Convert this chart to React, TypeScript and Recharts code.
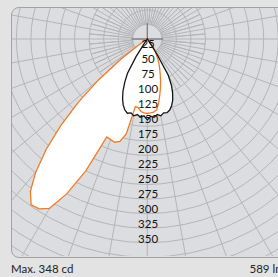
import React from 'react';
import { RadarChart, Radar, PolarGrid, PolarAngleAxis, PolarRadiusAxis } from 'recharts';

// gamma step (degrees) of the measured intensity values, starting at nadir (0°)
const STEP = 2.5;
// C0-C180 plane (orange), cd, towards the left / right of nadir
const orangeLeft = [128, 127, 125, 119, 118, 167, 182, 186, 184, 182, 250, 300, 336, 346, 348, 330, 298, 257, 210, 160, 110, 58, 20, 5, 0];
const orangeRight = [128, 127, 126, 123, 112, 99, 87, 76, 65, 56, 48, 40, 31, 25, 19, 14, 10, 6, 3, 1, 0];
// C90-C270 plane (black), cd
const blackLeft = [139, 132, 135, 131, 134, 130, 132, 128, 121, 111, 99, 84, 68, 36, 6, 0];
const blackRight = [139, 133, 135, 131, 134, 130, 131, 128, 122, 114, 103, 90, 72, 30, 5, 0];

const radiusTicks = [25, 50, 75, 100, 125, 150, 175, 200, 225, 250, 275, 300, 325, 350, 375, 400, 425, 450, 475];
const labelMax = 350;
const spokeAngles = Array.from({ length: 36 }, (_, i) => i * 10);
const SHORT_SPOKE = 100;
const DISK = 25;
const CROSS = 27;

const maxText = 'Max. 348 cd';
const lumenText = '589 lm';

const ORANGE = '#f37a22';
const BLACK = '#151515';
const GRID = '#b4b5b7';
const PANEL = '#dcdde0';
const PAGE = '#e3e3e4';

const positions = Array.from({ length: 144 }, (_, i) => i * STEP);
const pick = (arr: number[], g: number) => {
  const v = arr[Math.round(g / STEP)];
  return v === undefined ? 0 : v;
};
const data = positions.map((a) => {
  const left = a <= 180;
  const g = left ? a : 360 - a;
  return {
    a,
    o: pick(left ? orangeLeft : orangeRight, g),
    b: pick(left ? blackLeft : blackRight, g),
    disk: DISK,
    cross: a % 90 === 0 ? CROSS : 0,
    sp5: a % 10 === 5 ? SHORT_SPOKE : 0,
  };
});

const FONT = 'Lato, "Noto Sans", sans-serif';

const CX = 135.3;
const CY = 31;

const LabelTick = (props: any) => {
  const { x, y, payload } = props;
  const v = payload.value;
  if (v > labelMax) return null;
  const off = -10.3 + 0.0168 * v;
  return (
    <text x={x + 0.8} y={y + off} textAnchor="middle" dominantBaseline="central" fontSize={11.5} fill="#111" fontFamily={FONT}>
      {v}
    </text>
  );
};

export default function App() {
  return (
    <div style={{ position: 'absolute', left: 0, top: 0, width: 278, height: 277, background: PAGE, overflow: 'hidden', fontFamily: FONT }}>
      <div
        style={{
          position: 'absolute',
          left: 10.5,
          top: 6.5,
          width: 300,
          height: 251,
          boxSizing: 'border-box',
          border: '1.5px solid #a2a3a5',
          borderRadius: 8,
          overflow: 'hidden',
          background: PANEL,
        }}
      >
        <RadarChart
          width={297}
          height={248}
          data={data}
          cx={CX}
          cy={CY}
          innerRadius={0}
          outerRadius={276.45}
          startAngle={-90}
          endAngle={-450}
          margin={{ top: 0, right: 0, bottom: 0, left: 0 }}
        >
          <PolarGrid gridType="circle" polarAngles={spokeAngles} stroke={GRID} strokeWidth={1} />
          <PolarAngleAxis dataKey="a" type="number" domain={[0, 360]} tick={false} axisLine={false} tickLine={false} />
          <Radar dataKey="sp5" stroke={GRID} strokeWidth={1} fill="none" isAnimationActive={false} dot={false} />
          <Radar dataKey="disk" stroke={GRID} strokeWidth={1} fill={PANEL} fillOpacity={1} isAnimationActive={false} dot={false} />
          <Radar dataKey="cross" stroke="#7e7f81" strokeWidth={1} fill="none" isAnimationActive={false} dot={false} />
          <Radar dataKey="o" stroke="none" fill="#ffffff" fillOpacity={1} isAnimationActive={false} dot={false} />
          <Radar dataKey="b" stroke="none" fill="#ffffff" fillOpacity={1} isAnimationActive={false} dot={false} />
          <Radar dataKey="o" stroke={ORANGE} strokeWidth={1.3} fill="none" isAnimationActive={false} dot={false} />
          <Radar dataKey="b" stroke={BLACK} strokeWidth={1.3} fill="none" isAnimationActive={false} dot={false} />
          <PolarRadiusAxis
            angle={-90}
            type="number"
            domain={[0, 475]}
            ticks={radiusTicks}
            tick={LabelTick}
            axisLine={false}
            tickLine={false}
          />
        </RadarChart>
      </div>
      <div style={{ position: 'absolute', left: 11, top: 262, fontSize: 11.5, color: '#222', whiteSpace: 'nowrap', lineHeight: '14px' }}>{maxText}</div>
      <div style={{ position: 'absolute', left: 249.5, top: 262, fontSize: 11.5, color: '#222', whiteSpace: 'nowrap', lineHeight: '14px' }}>{lumenText}</div>
    </div>
  );
}
